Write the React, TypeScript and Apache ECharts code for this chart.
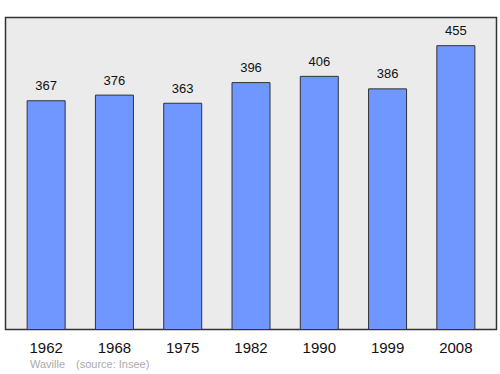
import React, { useEffect, useRef } from "react";
import * as echarts from "echarts";

const years = ["1962", "1968", "1975", "1982", "1990", "1999", "2008"];
const population = [367, 376, 363, 396, 406, 386, 455];
const footerName = "Waville";
const footerSource = "(source: Insee)";

export default function App() {
  const ref = useRef<HTMLDivElement>(null);
  useEffect(() => {
    if (!ref.current) return;
    const chart = echarts.init(ref.current, null, { renderer: "svg" });
    chart.setOption({
      animation: false,
      backgroundColor: "#ffffff",
      textStyle: { fontFamily: "Liberation Sans, Arial, sans-serif" },
      graphic: [
        {
          type: "rect",
          z: -10,
          shape: { x: 5.5, y: 17.5, width: 491, height: 312 },
          style: { fill: "#ebebeb", stroke: "#333333", lineWidth: 1.5 },
        },
        {
          type: "text",
          left: 30,
          top: 358,
          style: { text: footerName, fill: "#aaaaaa", font: "11px Liberation Sans, Arial, sans-serif" },
        },
        {
          type: "text",
          left: 76,
          top: 358,
          style: { text: footerSource, fill: "#aaaaaa", font: "11px Liberation Sans, Arial, sans-serif" },
        },
      ],
      grid: { left: 12, right: 10, top: 17, bottom: 44, containLabel: false },
      xAxis: {
        type: "category",
        data: years,
        axisLine: { show: false },
        axisTick: { show: false },
        axisLabel: { color: "#111111", fontSize: 15, margin: 10 },
      },
      yAxis: {
        type: "value",
        min: 0,
        max: 500,
        show: false,
        splitLine: { show: false },
      },
      series: [
        {
          type: "bar",
          data: population,
          barWidth: 39,
          itemStyle: { color: "#7097ff", borderColor: "#333333", borderWidth: 1 },
          label: {
            show: true,
            position: "top",
            distance: 8,
            color: "#111111",
            fontSize: 13,
          },
        },
      ],
    });
    return () => chart.dispose();
  }, []);
  return <div ref={ref} style={{ width: 500, height: 374, position: "absolute", left: 0, top: 0 }} />;
}
